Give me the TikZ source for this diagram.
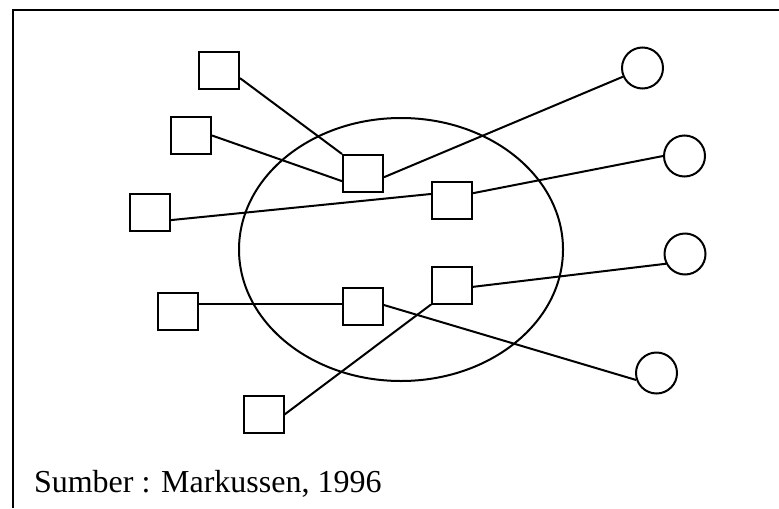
\documentclass[tikz,border=0pt]{standalone}
\usepackage{fontspec}
\setmainfont{Liberation Serif}

\begin{document}
\begin{tikzpicture}[
  x=0.5pt, y=-0.5pt, line width=1pt,
  sq/.style={draw, minimum width=20pt, minimum height=18.5pt, inner sep=0pt},
  rd/.style={draw, circle, minimum size=20.5pt, inner sep=0pt},
  src/.style={anchor=base west, inner sep=0pt, font=\fontsize{16}{19}\selectfont}]
\useasboundingbox (0,0) rectangle (779,508);
\draw (779,10.5) -- (12.5,10.5) -- (12.5,508);
\draw (401,249.5) ellipse [x radius=81pt, y radius=65.75pt];
% luar
\node[sq] (a) at (219,70.5) {};
\node[sq] (b) at (191,135.5) {};
\node[sq] (c) at (149.5,212.5) {};
\node[sq] (h) at (177.5,311.5) {};
\node[sq] (i) at (263.5,414.5) {};
% dalam
\node[sq] (d) at (363,173.5) {};
\node[sq] (e) at (452,200) {};
\node[sq] (g) at (363,306.5) {};
\node[sq] (f) at (452,285) {};
% lingkaran
\node[rd] (r1) at (642.5,68) {};
\node[rd] (r2) at (684.5,156) {};
\node[rd] (r3) at (685,254) {};
\node[rd] (r4) at (656.5,373) {};
\draw (a.-20) -- (d.north west);
\draw (b.east) -- (d.200);
\draw (d.-10) -- (r1.204);
\draw (c.-20) -- (e.164);
\draw (e.18) -- (r2.west);
\draw (h.20) -- (h.20 -| g.west);
\draw (g.4) -- (r4.199);
\draw (i.east) -- (f.south west);
\draw (f.-5) -- (r3.207);
\node[src] (s) at (33,492) {Sumber : Markussen, 1996};
\end{tikzpicture}
\end{document}
